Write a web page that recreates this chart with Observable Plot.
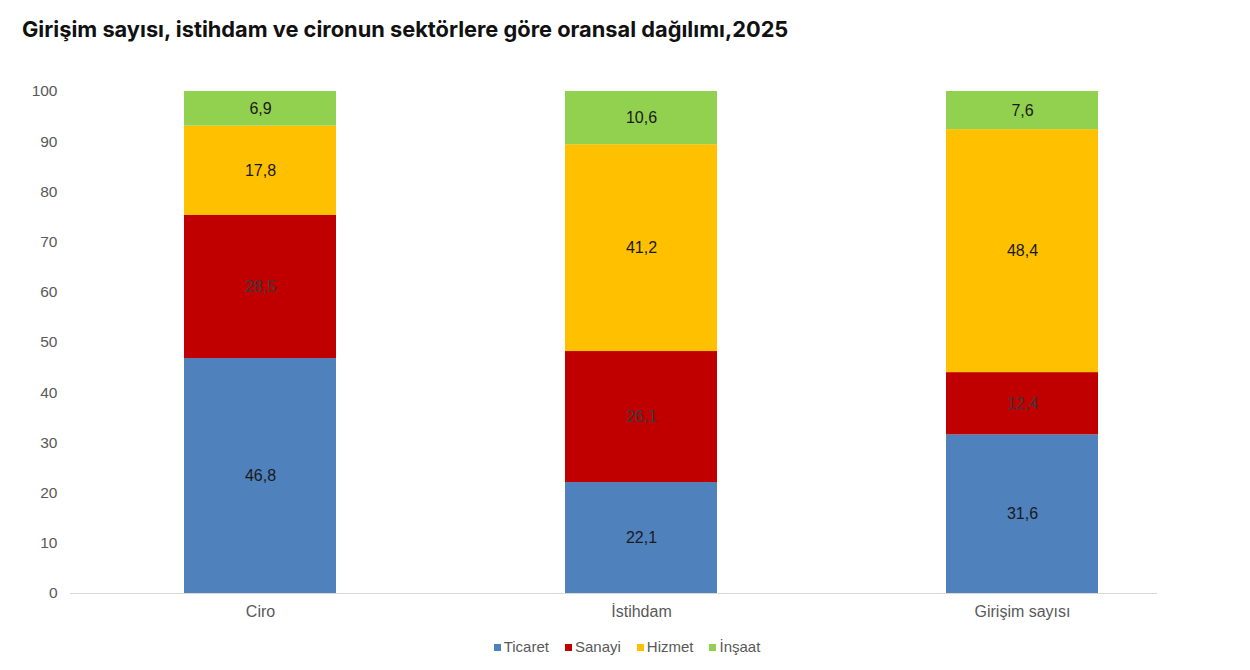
<!DOCTYPE html>
<html>
<head>
<meta charset="utf-8">
<script src="https://cdn.jsdelivr.net/npm/d3@7"></script>
<script src="https://cdn.jsdelivr.net/npm/@observablehq/plot@0.6"></script>
<style>
  html, body { margin: 0; padding: 0; background: #fff; }
  body { width: 1250px; height: 670px; overflow: hidden; position: relative; }
  #title { position: absolute; left: 22px; top: 16px; font-family: Inter, "Noto Sans", sans-serif; font-weight: 700; font-size: 21.8px; color: #111; white-space: nowrap; }
  #chart { position: absolute; left: 0; top: 60px; }
  #legend { position: absolute; left: 0; top: 638px; width: 1254px; display: flex; justify-content: center; gap: 16px; font-family: "Liberation Sans", Arial, sans-serif; font-size: 15px; color: #595959; line-height: 18px; }
  #legend span.item { display: inline-flex; align-items: center; }
  #legend span.sw { display: inline-block; width: 7px; height: 7px; margin-right: 3px; }
</style>
</head>
<body>
<div id="title">Girişim sayısı, istihdam ve cironun sektörlere göre oransal dağılımı,2025</div>
<div id="chart"></div>
<div id="legend"></div>
<script>
const categories = ["Ciro", "İstihdam", "Girişim sayısı"];
const sectors = ["Ticaret", "Sanayi", "Hizmet", "İnşaat"];
const colors = ["#4F81BD", "#C00000", "#FFC000", "#92D050"];
const ticaret = [46.8, 22.1, 31.6];
const sanayi  = [28.5, 26.1, 12.4];
const hizmet  = [17.8, 41.2, 48.4];
const insaat  = [6.9, 10.6, 7.6];
const yTicks = [0, 10, 20, 30, 40, 50, 60, 70, 80, 90, 100];

const seriesValues = [ticaret, sanayi, hizmet, insaat];
const data = [];
sectors.forEach((s, si) => {
  categories.forEach((c, ci) => {
    data.push({category: c, sector: s, value: seriesValues[si][ci]});
  });
});
const fmt = v => v.toFixed(1).replace(".", ",");

const chart = Plot.plot({
  width: 1250,
  height: 575,
  marginTop: 31,
  marginBottom: 42,
  marginLeft: 70,
  marginRight: 93,
  style: { fontFamily: "'Liberation Sans', Arial, sans-serif", fontSize: "15px", color: "#595959", background: "#fff" },
  x: { domain: categories, range: [69.5, 1212.5], paddingInner: 0.6, paddingOuter: 0.3, label: null },
  y: { domain: [0, 100], ticks: yTicks, label: null },
  color: { domain: sectors, range: colors },
  marks: [
    Plot.axisY({ ticks: yTicks, tickSize: 0, tickPadding: 13, fontSize: 15.5, fill: "#595959", label: null }),
    Plot.axisX({ tickSize: 0, tickPadding: 12, fontSize: 16, fill: "#595959", label: null }),
    Plot.barY(data, Plot.stackY({ x: "category", y: "value", z: "sector", fill: "sector" })),
    Plot.ruleY([0], { stroke: "#d9d9d9", strokeWidth: 1.2 }),
    Plot.text(data, Plot.stackY({
      x: "category", y: "value", z: "sector",
      text: d => fmt(d.value),
      fill: d => d.sector === "Sanayi" ? "#3a3a3a" : "#1a1a1a",
      fontSize: 16,
      fontFamily: "'Liberation Sans', Arial, sans-serif"
    }))
  ]
});
document.getElementById("chart").appendChild(chart);

const legend = document.getElementById("legend");
sectors.forEach((s, i) => {
  const item = document.createElement("span");
  item.className = "item";
  const sw = document.createElement("span");
  sw.className = "sw";
  sw.style.background = colors[i];
  item.appendChild(sw);
  item.appendChild(document.createTextNode(s));
  legend.appendChild(item);
});
</script>
</body>
</html>
